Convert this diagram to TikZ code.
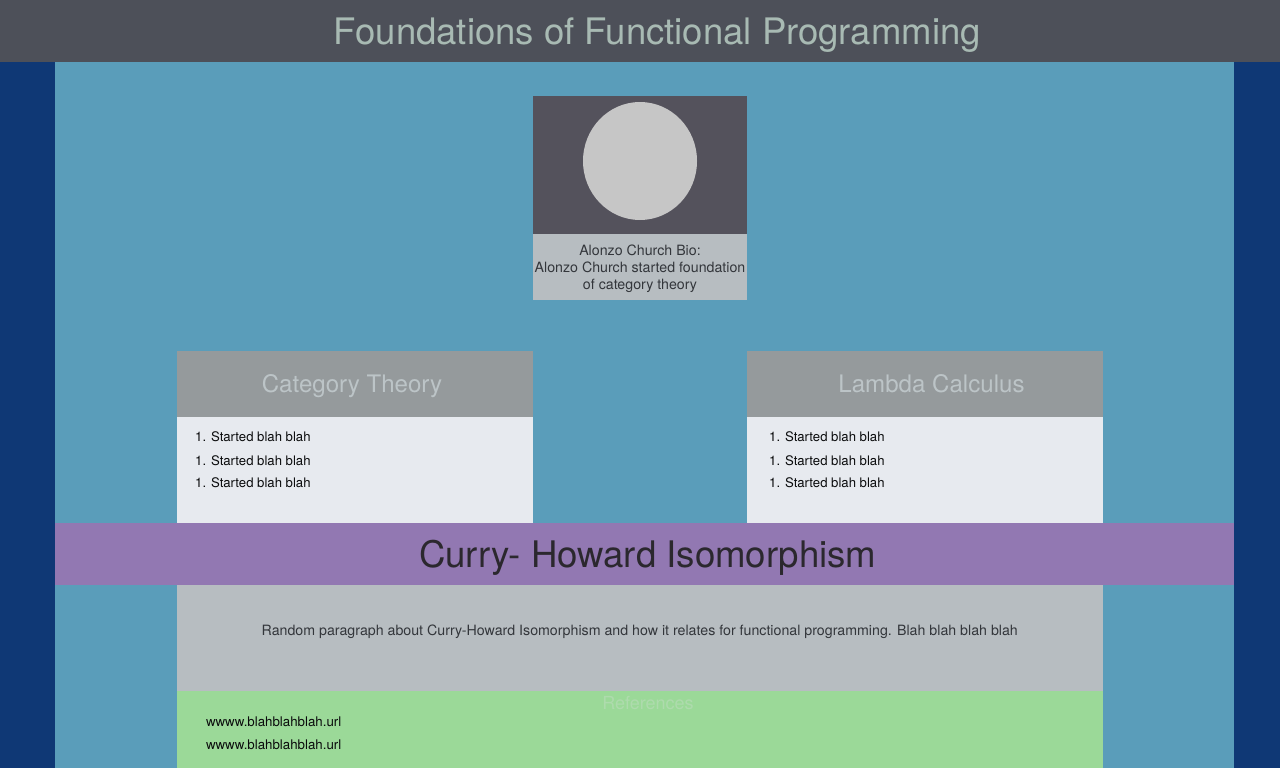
\documentclass[tikz,border=0pt]{standalone}
\usepackage{fontspec}
\setmainfont{TeX Gyre Heros}
\usetikzlibrary{shapes.geometric}
\definecolor{cNavy}{HTML}{0F3875}
\definecolor{cBlue}{HTML}{5A9DBA}
\definecolor{cHeader}{HTML}{4D5059}
\definecolor{cTitle}{HTML}{A8BAB3}
\definecolor{cPhoto}{HTML}{54525C}
\definecolor{cDisc}{HTML}{C6C6C6}
\definecolor{cPanel}{HTML}{B7BDC1}
\definecolor{cText}{HTML}{33363B}
\definecolor{cHead}{HTML}{959A9C}
\definecolor{cHeadText}{HTML}{BCC4C7}
\definecolor{cList}{HTML}{E7EAEF}
\definecolor{cBand}{HTML}{9278B2}
\definecolor{cBandText}{HTML}{2B282E}
\definecolor{cGreen}{HTML}{9BD998}
\definecolor{cRef}{HTML}{AEDBAD}
\definecolor{cItem}{HTML}{0A0B0C}
\newcommand{\fs}[1]{\fontsize{#1}{#1}\selectfont}
\tikzset{
  box/.style={anchor=north west,inner sep=0pt,outer sep=0pt,draw=none,rectangle},
  label text/.style={inner sep=0pt,outer sep=0pt,anchor=base},
  item text/.style={inner sep=0pt,outer sep=0pt,anchor=base west,text=cItem,font=\fs{13.3}},
  list text/.style={item text,font=\fs{13.15}},
  head text/.style={label text,text=cHeadText,font=\fs{24.1}},
  bio text/.style={label text,text=cText,font=\fs{14.2}},
}
\begin{document}
\begin{tikzpicture}[x=1pt,y=-1pt]
\useasboundingbox (0,0) rectangle (1280,768);
\node[box,fill=cNavy,minimum width=1280pt,minimum height=768pt] (page) at (0,0) {};
\node[box,fill=cBlue,minimum width=1179pt,minimum height=706pt] (main) at (55,62) {};
\node[box,fill=cHeader,minimum width=1280pt,minimum height=62pt] (header) at (0,0) {};
\node[label text,text=cTitle,font=\fs{36.5}] (title) at (657.3,44.5) {Foundations of Functional Programming};
\node[box,fill=cPhoto,minimum width=214pt,minimum height=138pt] (photo) at (533,96) {};
\node[ellipse,fill=cDisc,inner sep=0pt,outer sep=0pt,minimum width=114pt,minimum height=118pt] (disc) at (640,161) {};
\node[box,fill=cPanel,minimum width=214pt,minimum height=66pt] (bio) at (533,234) {};
\node[bio text] (bio1) at (640,255) {Alonzo Church Bio:};
\node[bio text] (bio2) at (640,272) {Alonzo Church started foundation};
\node[bio text] (bio3) at (640,289) {of category theory};
\node[box,fill=cHead,minimum width=356pt,minimum height=66pt] (cathead) at (177,351) {};
\node[head text] (cattitle) at (352,392) {Category Theory};
\node[box,fill=cList,minimum width=356pt,minimum height=106pt] (catlist) at (177,417) {};
\node[list text] (c1) at (195.2,441) {1. Started blah blah};
\node[list text] (c2) at (195.2,465) {1. Started blah blah};
\node[list text] (c3) at (195.2,487) {1. Started blah blah};
\node[box,fill=cHead,minimum width=356pt,minimum height=66pt] (lamhead) at (747,351) {};
\node[head text] (lamtitle) at (931.5,392) {Lambda Calculus};
\node[box,fill=cList,minimum width=356pt,minimum height=106pt] (lamlist) at (747,417) {};
\node[list text] (l1) at (769.2,441) {1. Started blah blah};
\node[list text] (l2) at (769.2,465) {1. Started blah blah};
\node[list text] (l3) at (769.2,487) {1. Started blah blah};
\node[box,fill=cBand,minimum width=1179pt,minimum height=62pt] (band) at (55,523) {};
\node[label text,text=cBandText,font=\fs{36.6}] (bandtitle) at (647.8,567) {Curry- Howard Isomorphism};
\node[box,fill=cPanel,minimum width=926pt,minimum height=106pt] (para) at (177,585) {};
\node[bio text] (paratext) at (639.8,635) {Random paragraph about Curry-Howard Isomorphism and how it relates for functional programming. Blah blah blah blah};
\node[box,fill=cGreen,minimum width=926pt,minimum height=77pt] (refs) at (177,691) {};
\node[label text,text=cRef,font=\fs{18}] (reftitle) at (648,709) {References};
\node[item text] (r1) at (206,726) {wwww.blahblahblah.url};
\node[item text] (r2) at (206,749) {wwww.blahblahblah.url};
\end{tikzpicture}
\end{document}
